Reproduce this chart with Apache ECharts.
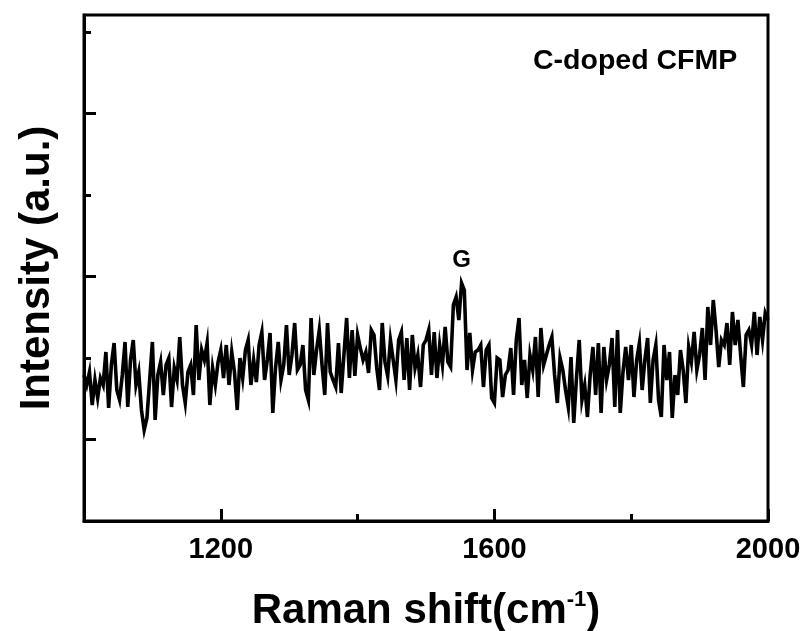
<!DOCTYPE html>
<html>
<head>
<meta charset="utf-8">
<script src="https://cdn.jsdelivr.net/npm/echarts@6/dist/echarts.min.js"></script>
<style>html,body{margin:0;padding:0;background:#fff}#c{width:810px;height:631px}</style>
</head>
<body>
<div id="c"></div>
<script>
// Raman shift sampling (cm-1)
const shiftStart = 1000;
const shiftStep = 4;
// Intensity (a.u.), one value per 4 cm-1 from 1000 to 2000
const intensity = [
146,136,149,116,141,123,143,136,169,113,156,178,131,121,146,179,114,161,181,136,
149,111,91,103,141,179,101,146,159,126,156,163,114,153,141,184,136,118,149,156,
126,196,141,171,161,178,116,153,136,159,171,143,176,136,169,149,111,163,143,171,
181,136,161,139,176,189,141,161,188,108,153,179,141,156,196,146,166,198,151,156,
176,131,121,203,146,171,191,156,126,198,149,141,134,178,128,166,203,143,191,145,
186,173,161,169,148,191,186,153,131,198,159,145,181,161,141,181,189,141,183,131,
186,153,166,134,176,181,191,146,189,143,176,156,194,159,154,216,224,201,238,231,
151,188,151,169,171,176,134,171,176,123,118,163,161,124,146,151,173,126,181,203,
136,161,123,166,151,184,124,193,156,166,176,184,146,118,163,151,131,114,164,98,
143,181,121,136,104,146,174,126,178,108,174,141,156,183,114,191,108,149,174,141,
176,124,161,178,131,161,183,118,161,176,121,104,176,141,169,103,146,126,171,151,
118,174,159,189,151,166,193,141,214,176,221,191,154,181,176,198,156,209,176,201,
166,134,186,191,176,209,166,204,181,208,201
];
const xTickLabels = [1200, 1600, 2000];
const xMajorTicks = [1200, 1600, 2000];
const yMajorTicks = [81.5, 244.5, 407.5];
const yMinorTicks = [0, 163, 326, 489];
const peakLabel = {text: 'G', shift: 1552, value: 238};
const sampleName = 'C-doped CFMP';

const points = intensity.map((v, i) => [shiftStart + i * shiftStep, v]);
const FONT = '"Liberation Sans", Arial, sans-serif';

const chart = echarts.init(document.getElementById('c'), null, {renderer: 'canvas'});
chart.setOption({
  animation: false,
  backgroundColor: '#fff',
  grid: {left: 84, right: 42, top: 15, bottom: 110, outerBoundsMode: 'none', containLabel: false,
    show: true, borderColor: '#000', borderWidth: 3, backgroundColor: 'transparent'},
  title: {
    text: sampleName, left: 528, top: 42,
    textStyle: {fontFamily: FONT, fontWeight: 'bold', fontSize: 28.5, color: '#000'}
  },
  xAxis: [{
    type: 'value', min: 1000, max: 2000, interval: 200, position: 'bottom',
    axisLine: {show: true, lineStyle: {color: '#000', width: 3}},
    axisTick: {show: true, inside: true, length: 12, lineStyle: {color: '#000', width: 3}, customValues: xMajorTicks},
    axisLabel: {show: true, customValues: xTickLabels, formatter: v => String(v), margin: 14, color: '#000', fontFamily: FONT, fontWeight: 'bold', fontSize: 29},
    splitLine: {show: false},
    name: 'Raman shift(cm{sup|-1})', nameLocation: 'middle', nameGap: 68,
    nameTextStyle: {fontFamily: FONT, fontWeight: 'bold', fontSize: 42, color: '#000',
      rich: {sup: {fontFamily: FONT, fontWeight: 'bold', fontSize: 22, color: '#000', verticalAlign: 'top', padding: [0, 0, 22, 0]}}}
  }, {
    type: 'value', min: 1000, max: 2000, interval: 200, position: 'bottom',
    axisLine: {show: false},
    axisTick: {show: true, inside: true, length: 7, lineStyle: {color: '#000', width: 3}},
    axisLabel: {show: false}, splitLine: {show: false}
  }],
  yAxis: [{
    type: 'value', min: 0, max: 506, position: 'left',
    axisLine: {show: true, lineStyle: {color: '#000', width: 3}},
    axisTick: {show: true, inside: true, length: 12, lineStyle: {color: '#000', width: 3}, customValues: yMajorTicks},
    axisLabel: {show: false}, splitLine: {show: false},
    name: 'Intensity (a.u.)', nameLocation: 'middle', nameGap: 26,
    nameTextStyle: {fontFamily: FONT, fontWeight: 'bold', fontSize: 42, color: '#000'}
  }, {
    type: 'value', min: 0, max: 506, position: 'left',
    axisLine: {show: false},
    axisTick: {show: true, inside: true, length: 7, lineStyle: {color: '#000', width: 3}, customValues: yMinorTicks},
    axisLabel: {show: false}, splitLine: {show: false}
  }],
  series: [{
    type: 'line', xAxisIndex: 0, yAxisIndex: 0, data: points, showSymbol: false,
    lineStyle: {color: '#000', width: 3.6, join: 'miter'}, clip: true,
    markPoint: {
      symbol: 'rect', symbolSize: 1, itemStyle: {color: 'transparent'},
      label: {show: true, position: 'top', distance: 10, formatter: peakLabel.text, color: '#000', fontFamily: FONT, fontWeight: 'bold', fontSize: 24},
      data: [{coord: [peakLabel.shift, peakLabel.value]}]
    }
  }]
});
</script>
</body>
</html>
